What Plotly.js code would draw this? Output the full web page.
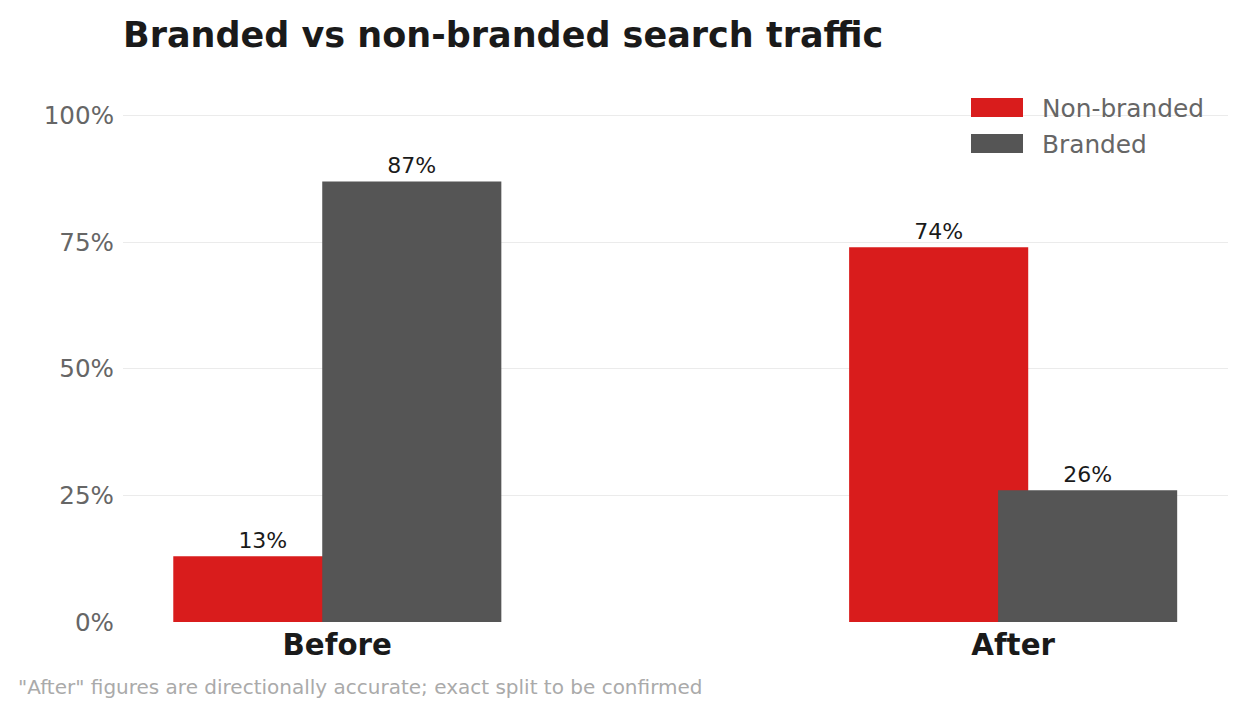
<!DOCTYPE html>
<html><head><meta charset="utf-8">
<script src="https://cdn.plot.ly/plotly-3.0.1.min.js"></script>
<style>html,body{margin:0;padding:0;background:#fff}#chart{width:1245px;height:715px}</style>
</head><body><div id="chart"></div>
<script>
const categories = ["Before", "After"];
const seriesNames = ["Non-branded", "Branded"];
const nonBranded = [0.13, 0.74];
const branded = [0.87, 0.26];
const seriesColors = ["#d91c1c", "#555555"];
const yTickVals = [0, 0.25, 0.5, 0.75, 1.0];
const yTickText = ["0%", "25%", "50%", "75%", "100%"];
const titleText = "Branded vs non-branded search traffic";
const footnote = "\"After\" figures are directionally accurate; exact split to be confirmed";

const W = 1245, H = 715, L = 123, R = 17, T = 65, B = 93;
const PW = W - L - R, PH = H - T - B;
const px = x => (x - L) / PW;
const py = y => (H - B - y) / PH;
const FONT = "DejaVu Sans, sans-serif";
const pct = v => Math.round(v * 100) + "%";

const traces = [nonBranded, branded].map((vals, i) => ({
  type: "bar", name: seriesNames[i], x: categories, y: vals,
  width: 0.265, offset: i === 0 ? -0.2426 : -0.0222,
  marker: {color: seriesColors[i], line: {width: 0}},
  text: vals.map(pct), textposition: "outside", cliponaxis: false,
  textfont: {family: FONT, size: 22, color: "#1a1a1a"},
  hoverinfo: "skip", showlegend: false
}));

const shapes = [], annotations = [];
seriesNames.forEach((n, i) => {
  const top = 98 + i * 36;
  shapes.push({type: "rect", xref: "paper", yref: "paper",
    x0: px(971), x1: px(1023), y0: py(top + 19), y1: py(top),
    fillcolor: seriesColors[i], line: {width: 0}});
  annotations.push({xref: "paper", yref: "paper", x: px(1040), y: py(top + 10),
    xanchor: "left", yanchor: "middle", showarrow: false, text: n,
    font: {family: FONT, size: 24.8, color: "#666666"}});
});
annotations.push({xref: "paper", yref: "paper", x: px(16), y: py(687),
  xanchor: "left", yanchor: "middle", showarrow: false, text: footnote,
  font: {family: FONT, size: 20, color: "#aaaaaa"}});

const layout = {
  width: W, height: H,
  margin: {l: L, r: R, t: T, b: B, pad: 0},
  paper_bgcolor: "#ffffff", plot_bgcolor: "#ffffff",
  barmode: "overlay",
  title: {text: "<b>" + titleText + "</b>", x: px(123), xref: "paper", xanchor: "left",
    y: 1 - 35 / H, yanchor: "middle", yref: "container",
    font: {family: FONT, size: 35, color: "#1a1a1a"}},
  xaxis: {type: "category", range: [-0.317, 1.318], showgrid: false, zeroline: false,
    showline: false, ticks: "", tickfont: {family: FONT, size: 29.3, color: "#1a1a1a"},
    tickprefix: "<b>", ticksuffix: "</b>", ticklabelstandoff: 3},
  yaxis: {range: [0, 1.1], tickvals: yTickVals, ticktext: yTickText,
    showgrid: true, gridcolor: "#ebebeb", gridwidth: 1.3, zeroline: false, showline: false,
    ticks: "", tickfont: {family: FONT, size: 24.6, color: "#666666"}, ticklabelstandoff: 8},
  showlegend: false, shapes, annotations
};
Plotly.newPlot("chart", traces, layout, {displayModeBar: false, staticPlot: true});
</script></body></html>
